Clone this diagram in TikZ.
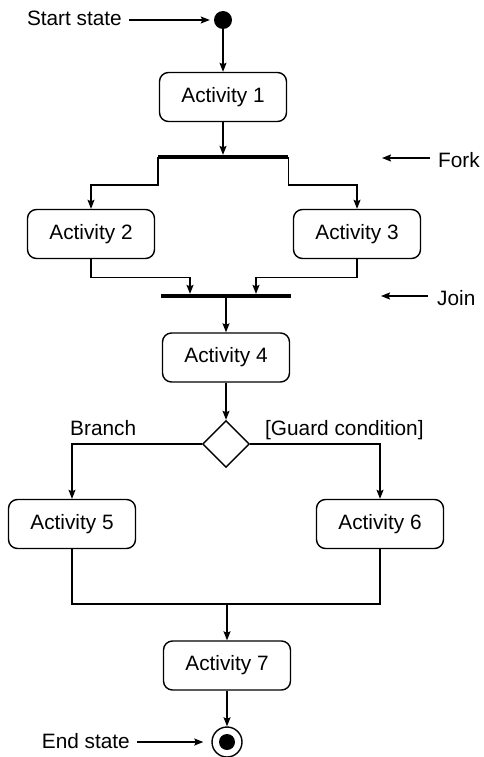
\documentclass[tikz,border=0pt]{standalone}
\usepackage{fontspec}
\setmainfont{Liberation Sans}
\usetikzlibrary{arrows.meta,shapes.geometric}
\begin{document}
\begin{tikzpicture}[x=1pt,y=-1pt,
  every node/.style={font=\fontsize{20.8}{24}\selectfont},
  act/.style={draw, rounded corners=9pt, minimum width=127pt, minimum height=49pt, inner sep=0pt, line width=1.4pt},
  bar/.style={fill=black, minimum width=130pt, minimum height=3.8pt, inner sep=0pt},
  arr/.style={-{Stealth[length=9pt,width=7pt,inset=1.5pt]}, line width=1.4pt},
  ln/.style={line width=1.4pt},
  lbl/.style={inner sep=0pt}]
\useasboundingbox (0,0) rectangle (483,757);
% nodes
\node[circle, fill=black, minimum size=18pt, inner sep=0pt] (start) at (223,20) {};
\node[act] (a1) at (223,97) {Activity 1};
\node[bar] (fork) at (223,157) {};
\node[act] (a2) at (91,234) {Activity 2};
\node[act] (a3) at (357,234) {Activity 3};
\node[bar] (join) at (226,296) {};
\node[act] (a4) at (226,357.5) {Activity 4};
\node[diamond, draw, aspect=1, minimum width=47pt, minimum height=47pt, inner sep=0pt, ln] (dec) at (226,444) {};
\node[act] (a5) at (72,524) {Activity 5};
\node[act] (a6) at (380,524) {Activity 6};
\coordinate (m) at (227,604);
\node[act] (a7) at (227,665.5) {Activity 7};
\node[circle, draw, ln, minimum size=30pt, inner sep=0pt] (end) at (227,742) {};
\node[circle, fill=black, minimum size=16pt, inner sep=0pt] (endin) at (end) {};
% labels
\node[lbl, anchor=base east] (lstart) at (122,26) {Start state};
\node[lbl, anchor=base west] (lfork) at (438,167) {Fork};
\node[lbl, anchor=base west] (ljoin) at (437,305) {Join};
\node[lbl, anchor=base west] (lbranch) at (70,435) {Branch};
\node[lbl, anchor=base west] (lguard) at (265,435) {[Guard condition]};
\node[lbl, anchor=base east] (lend) at (130,748) {End state};
\coordinate (sat) at (129,20);
\coordinate (fkt) at (430,158);
\coordinate (fkh) at (382,158);
\coordinate (jnt) at (428,296);
\coordinate (jnh) at (381,296);
\coordinate (ent) at (137,742);
% connectors
\draw[arr, shorten >=4pt] (sat) -- (start.west);
\draw[arr] (fkt) -- (fkh);
\draw[arr] (jnt) -- (jnh);
\draw[arr, shorten >=8pt] (ent) -- (end.west);
\draw[arr] (start) -- (a1);
\draw[arr] (a1) -- (fork);
\draw[arr] (fork.west) -- ++(0,28) -| (a2.north);
\draw[arr] (fork.east) -- ++(0,28) -| (a3.north);
\draw[arr] (a2.south) -- ++(0,18) -| ([xshift=-36pt]join.north);
\draw[arr] (a3.south) -- ++(0,18) -| ([xshift=30pt]join.north);
\draw[arr] (join) -- (a4);
\draw[arr] (a4) -- (dec);
\draw[arr] (dec.west) -| (a5.north);
\draw[arr] (dec.east) -| (a6.north);
\draw[ln] (a5.south) |- (m) -| (a6.south);
\draw[arr] (m) -- (a7);
\draw[arr] (a7) -- (end);
\end{tikzpicture}
\end{document}
